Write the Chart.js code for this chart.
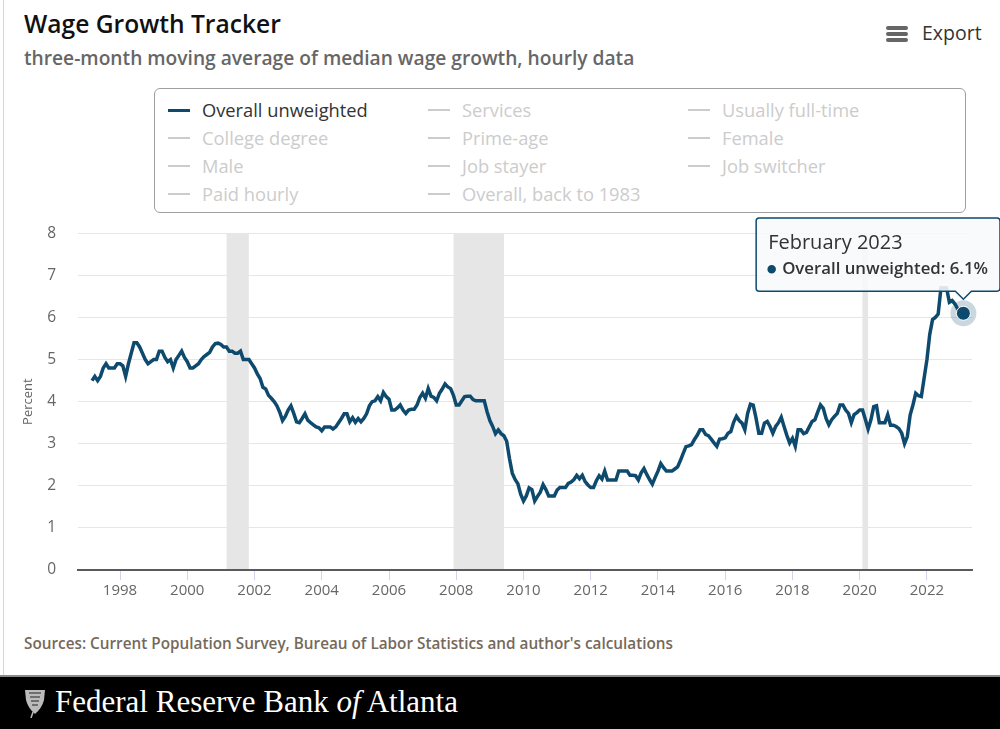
<!DOCTYPE html>
<html>
<head>
<meta charset="utf-8">
<script src="https://cdn.jsdelivr.net/npm/chart.js@4.4.1/dist/chart.umd.min.js"></script>
<style>
  body { margin: 0; width: 1000px; height: 729px; position: relative; overflow: hidden; background: #fff; font-family: 'Open Sans', sans-serif; }
  .frame { position: absolute; left: 3px; top: 0; width: 1px; height: 676px; background: #d6d6d6; }
  .title { position: absolute; left: 24px; top: 8px; font-size: 24.6px; font-weight: 600; color: #111; line-height: 32px; }
  .subtitle { position: absolute; left: 24px; top: 45px; font-size: 19.2px; font-weight: 600; color: #666; line-height: 26px; }
  .export { position: absolute; left: 886px; top: 20px; height: 28px; }
  .export .bar { position: absolute; left: 0; width: 22px; height: 3.5px; border-radius: 2px; background: #666; }
  .export span { position: absolute; left: 36px; top: 0; font-size: 19.5px; font-weight: 500; color: #333; line-height: 26px; }
  .legend { position: absolute; left: 154px; top: 88px; width: 812px; height: 125px; box-sizing: border-box; border: 1px solid #a0a0a0; border-radius: 6px; }
  .item { position: absolute; height: 26px; line-height: 26px; font-size: 18.3px; color: #ccc; white-space: nowrap; }
  .item i { position: absolute; left: 0; top: 12px; width: 22px; height: 2px; background: #ccc; }
  .item span { position: absolute; left: 34px; top: 0; }
  .item.on { color: #333; }
  .item.on i { background: #0e4a6e; height: 3px; }
  #chart { position: absolute; left: 0; top: 202px; }
  .source { position: absolute; left: 24px; top: 632px; font-size: 15.3px; font-weight: 600; color: #75695b; line-height: 22px; }
  .footer { position: absolute; left: 0; top: 675px; width: 1000px; height: 54px; background: #000; border-top: 2px solid #8a8a8a; box-sizing: border-box; }
  .footer .name { position: absolute; left: 55px; top: 6px; font-family: 'Liberation Serif', 'DejaVu Serif', serif; font-size: 31px; color: #fff; line-height: 38px; }
  .footer svg { position: absolute; left: 24px; top: 11px; }
</style>
</head>
<body>
<div class="frame"></div>
<div class="title">Wage Growth Tracker</div>
<div class="subtitle">three-month moving average of median wage growth, hourly data</div>
<div class="export">
  <div class="bar" style="top:6px"></div>
  <div class="bar" style="top:12px"></div>
  <div class="bar" style="top:18px"></div>
  <span>Export</span>
</div>
<div class="legend" id="legend"></div>
<canvas id="chart" width="1000" height="408"></canvas>
<div class="source">Sources: Current Population Survey, Bureau of Labor Statistics and author's calculations</div>
<div class="footer">
  <svg width="22" height="30" viewBox="0 0 22 30">
    <path d="M1 2 L21 2 L20 12 Q18 20 11 26 Q4 20 2 12 Z" fill="#bbb"/>
    <path d="M5 5 L17 5 M6 9 L16 9 M7 13 L15 13 M8 17 L14 17" stroke="#555" stroke-width="1.5"/>
    <path d="M9 24 L7 30" stroke="#bbb" stroke-width="1.5"/>
  </svg>
  <div class="name">Federal Reserve Bank <i>of</i> Atlanta</div>
</div>
<script>
// series: three-month moving average, monthly, starting March 1997
const startYear = 1997;
const startMonth = 3;
const wageGrowth = [
  4.5, 4.6, 4.5, 4.6, 4.8, 4.9, 4.8, 4.8, 4.8, 4.9,                 // 1997 (Mar-Dec)
  4.9, 4.85, 4.6, 4.9, 5.15, 5.4, 5.4, 5.3, 5.15, 5.0, 4.9, 4.95,    // 1998
  5.0, 5.0, 5.2, 5.2, 5.05, 4.95, 5.0, 4.8, 5.0, 5.1, 5.2, 5.05,     // 1999
  4.95, 4.8, 4.8, 4.85, 4.9, 5.0, 5.07, 5.12, 5.17, 5.3, 5.38, 5.39, // 2000
  5.36, 5.3, 5.3, 5.2, 5.2, 5.15, 5.15, 5.2, 5.0, 5.0, 5.0, 4.9,     // 2001
  4.8, 4.66, 4.55, 4.34, 4.3, 4.15, 4.08, 4.0, 3.9, 3.75, 3.55, 3.65, // 2002
  3.8, 3.9, 3.72, 3.52, 3.5, 3.6, 3.71, 3.56, 3.5, 3.45, 3.4, 3.38,  // 2003
  3.31, 3.4, 3.4, 3.4, 3.35, 3.4, 3.5, 3.6, 3.71, 3.71, 3.52, 3.62,  // 2004
  3.51, 3.6, 3.52, 3.6, 3.71, 3.9, 4.0, 4.02, 4.12, 4.02, 4.22, 4.12, // 2005
  4.06, 3.8, 3.8, 3.85, 3.92, 3.8, 3.72, 3.8, 3.82, 3.82, 3.92, 4.1, // 2006
  4.2, 4.08, 4.31, 4.13, 4.1, 4.02, 4.2, 4.3, 4.42, 4.35, 4.31, 4.15, // 2007
  3.92, 3.92, 4.02, 4.12, 4.13, 4.13, 4.05, 4.02, 4.02, 4.02, 4.02, 3.76, // 2008
  3.55, 3.41, 3.24, 3.33, 3.24, 3.19, 3.06, 2.65, 2.3, 2.15, 2.05, 1.8, // 2009
  1.64, 1.76, 1.95, 1.91, 1.64, 1.75, 1.85, 2.03, 1.91, 1.76, 1.76, 1.76, // 2010
  1.9, 1.96, 1.96, 1.96, 2.06, 2.09, 2.15, 2.25, 2.17, 2.25, 2.1, 2.02, // 2011
  1.96, 1.96, 2.12, 2.24, 2.16, 2.35, 2.14, 2.14, 2.14, 2.14, 2.35, 2.35, // 2012
  2.35, 2.35, 2.25, 2.25, 2.24, 2.14, 2.31, 2.41, 2.27, 2.15, 2.04, 2.2, // 2013
  2.35, 2.53, 2.43, 2.35, 2.35, 2.35, 2.4, 2.45, 2.6, 2.77, 2.93, 2.95, // 2014
  2.98, 3.1, 3.2, 3.33, 3.33, 3.22, 3.19, 3.11, 3.02, 2.94, 3.11, 3.12, // 2015
  3.14, 3.25, 3.29, 3.51, 3.65, 3.55, 3.49, 3.33, 3.72, 3.94, 3.92, 3.61, // 2016
  3.25, 3.25, 3.49, 3.53, 3.41, 3.25, 3.41, 3.5, 3.63, 3.41, 3.2, 3.02, // 2017
  3.13, 2.94, 3.33, 3.33, 3.24, 3.27, 3.4, 3.53, 3.57, 3.75, 3.92, 3.84, // 2018
  3.6, 3.45, 3.57, 3.65, 3.72, 3.92, 3.92, 3.8, 3.72, 3.5, 3.69, 3.74, // 2019
  3.8, 3.8, 3.58, 3.35, 3.57, 3.88, 3.9, 3.5, 3.5, 3.5, 3.69, 3.44,  // 2020
  3.44, 3.41, 3.36, 3.25, 3.0, 3.17, 3.68, 3.92, 4.2, 4.14, 4.12, 4.56, // 2021
  5.0, 5.6, 5.95, 6.0, 6.08, 6.7, 6.7, 6.7, 6.36, 6.4, 6.32, 6.2,    // 2022
  6.16, 6.1                                                          // 2023 (Jan-Feb)
];
const tickYears = [1998, 2000, 2002, 2004, 2006, 2008, 2010, 2012, 2014, 2016, 2018, 2020, 2022];
const recessions = [[2001.17, 2001.83], [2007.92, 2009.42], [2020.08, 2020.25]];
const monthNames = ['January', 'February', 'March', 'April', 'May', 'June', 'July',
  'August', 'September', 'October', 'November', 'December'];
const legendItems = ['Overall unweighted', 'Services', 'Usually full-time', 'College degree', 'Prime-age',
  'Female', 'Male', 'Job stayer', 'Job switcher', 'Paid hourly', 'Overall, back to 1983'];

const lineColor = '#0e4a6e';

// legend (3 columns, only the first series is switched on)
const legendEl = document.getElementById('legend');
legendItems.forEach((name, i) => {
  const d = document.createElement('div');
  d.className = 'item' + (i === 0 ? ' on' : '');
  d.style.left = (13 + (i % 3) * 260) + 'px';
  d.style.top = (8 + Math.floor(i / 3) * 28) + 'px';
  d.innerHTML = '<i></i><span>' + name + '</span>';
  legendEl.appendChild(d);
});

const points = wageGrowth.map((v, i) => ({ x: startYear + (startMonth - 1 + i) / 12, y: v }));

const recessionBands = {
  id: 'recessionBands',
  beforeDatasetsDraw(chart) {
    const { ctx, chartArea, scales } = chart;
    ctx.save();
    ctx.fillStyle = '#e6e6e6';
    recessions.forEach(([a, b]) => {
      const x1 = scales.x.getPixelForValue(a);
      const x2 = scales.x.getPixelForValue(b);
      ctx.fillRect(x1, chartArea.top, x2 - x1, chartArea.bottom - chartArea.top - 1);
    });
    // halo around the highlighted point
    chart.getActiveElements().forEach(a => {
      const el = chart.getDatasetMeta(a.datasetIndex).data[a.index];
      ctx.beginPath();
      ctx.arc(el.x, el.y, 13, 0, Math.PI * 2);
      ctx.fillStyle = 'rgba(14,74,110,0.22)';
      ctx.fill();
    });
    ctx.restore();
  }
};

Chart.defaults.font.family = "'Open Sans', sans-serif";

const chart = new Chart(document.getElementById('chart'), {
  type: 'line',
  data: {
    datasets: [{
      label: 'Overall unweighted',
      data: points,
      borderColor: lineColor,
      borderWidth: 3.5,
      pointRadius: 0,
      pointHoverRadius: 7,
      pointHoverBackgroundColor: lineColor,
      pointHoverBorderColor: '#ffffff',
      pointHoverBorderWidth: 1,
      tension: 0
    }]
  },
  options: {
    responsive: false,
    animation: false,
    events: [],
    layout: { padding: { top: 4, right: 28, left: 0, bottom: 0 } },
    scales: {
      x: {
        type: 'linear',
        min: 1996.75,
        max: 2023.34,
        afterBuildTicks: s => { s.ticks = tickYears.map(v => ({ value: v })); },
        afterFit: s => { s.height = 40; },
        grid: { drawOnChartArea: false, drawTicks: true, tickLength: 10, color: '#ccd6eb' },
        border: { display: true, color: '#5a5a5a', width: 2 },
        ticks: { color: '#666', font: { size: 15 }, padding: 2, maxRotation: 0, autoSkip: false, callback: v => String(v) }
      },
      y: {
        min: 0,
        max: 8,
        afterFit: s => { s.width = 78; },
        grid: { color: '#e6e6e6', drawTicks: false },
        border: { display: false },
        ticks: { stepSize: 1, color: '#666', font: { size: 15.5, weight: '500' }, padding: 22 },
        title: { display: true, text: 'Percent', color: '#666', font: { size: 13 }, padding: { top: 20, bottom: 0 } }
      }
    },
    plugins: {
      legend: { display: false },
      tooltip: {
        enabled: true,
        xAlign: 'center',
        yAlign: 'bottom',
        backgroundColor: 'rgba(247,249,250,0.88)',
        borderColor: lineColor,
        borderWidth: 1.5,
        cornerRadius: 3,
        caretSize: 8,
        caretPadding: 14,
        padding: { left: 12, right: 12, top: 13, bottom: 12 },
        titleColor: '#333',
        titleFont: { size: 20, weight: '500' },
        titleMarginBottom: 4,
        bodyColor: '#333',
        bodyFont: { size: 16.8, weight: '600' },
        displayColors: true,
        usePointStyle: true,
        boxWidth: 7,
        boxHeight: 7,
        boxPadding: 5,
        callbacks: {
          title: items => {
            const k = startMonth - 1 + items[0].dataIndex;
            return monthNames[k % 12] + ' ' + (startYear + Math.floor(k / 12));
          },
          label: c => c.dataset.label + ': ' + c.parsed.y.toFixed(1) + '%',
          labelPointStyle: () => ({ pointStyle: 'circle', rotation: 0 }),
          labelColor: () => ({ borderColor: lineColor, backgroundColor: lineColor, borderWidth: 0 })
        }
      }
    }
  },
  plugins: [recessionBands]
});

// show the tooltip for the latest month, as in the original view
const last = [{ datasetIndex: 0, index: wageGrowth.length - 1 }];
chart.setActiveElements(last);
chart.tooltip.setActiveElements(last, { x: 0, y: 0 });
chart.update();
</script>
</body>
</html>
